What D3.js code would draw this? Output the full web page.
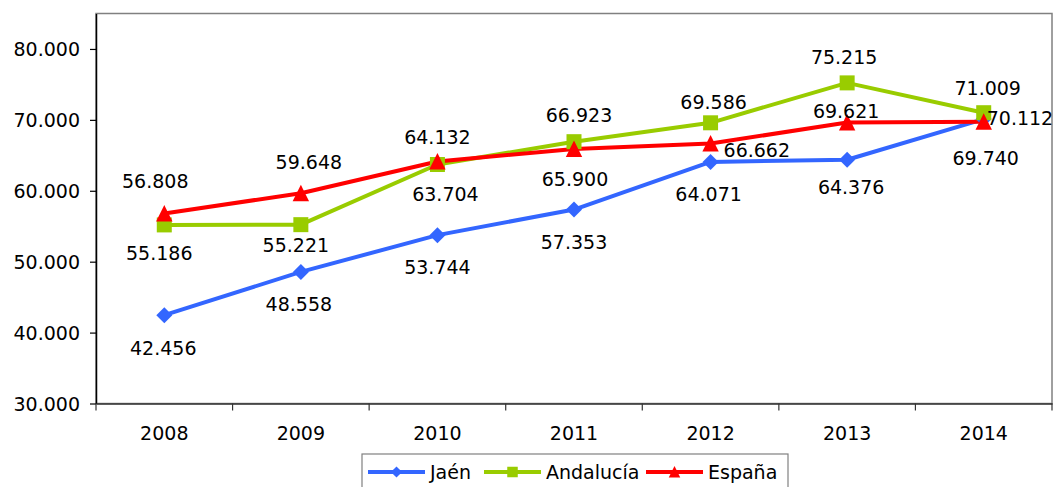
<!DOCTYPE html>
<html><head><meta charset="utf-8">
<script src="https://cdn.jsdelivr.net/npm/d3@7"></script>
<style>body{margin:0;background:#fff}svg{display:block}text{font-family:"DejaVu Sans",sans-serif;fill:#000}</style>
</head><body><svg id="c" width="1053" height="487"></svg>
<script>
// ---- data ----
const years = ["2008","2009","2010","2011","2012","2013","2014"];
const jaen = [42456, 48558, 53744, 57353, 64071, 64376, 70112];
const andalucia = [55186, 55221, 63704, 66923, 69586, 75215, 71009];
const espana = [56808, 59648, 64132, 65900, 66662, 69621, 69740];
const yTicks = [30000, 40000, 50000, 60000, 70000, 80000];
const seriesNames = ["Jaén", "Andalucía", "España"];

// ---- layout: data-label nudges relative to each point [dx, dy, anchor] ----
const jaenLab = [[-1,33,"m"],[-2,32,"m"],[0,32,"m"],[0,32,"m"],[-2,32,"m"],[4,27,"m"],[3,-1,"s"]];
const andaluciaLab = [[-5,28,"m"],[-5,20,"m"],[8,29,"m"],[5,-27,"m"],[3,-21,"m"],[-3,-26,"m"],[4,-25,"m"]];
const espanaLab = [[-9,-32,"m"],[8,-31,"m"],[0,-24,"m"],[1,30,"m"],[13,6,"s"],[-1,-12,"m"],[2,36,"m"]];

const series = [
  {name: seriesNames[0], values: jaen, lab: jaenLab, color: "#3366ff", marker: "diamond"},
  {name: seriesNames[1], values: andalucia, lab: andaluciaLab, color: "#99cc00", marker: "square"},
  {name: seriesNames[2], values: espana, lab: espanaLab, color: "#ff0000", marker: "triangle"}
];

const loc = d3.formatLocale({decimal: ",", thousands: ".", grouping: [3], currency: ["", "€"]});
const fmt = loc.format(",.0f");
const FS = "19px";

const svg = d3.select("#c");
const L = 96, R = 1052, T = 13.5, B = 403.5;
const x = d3.scaleBand().domain(years).range([L, R]);
const y = d3.scaleLinear().domain([30000, 85000]).range([B, T]);

// plot frame
svg.append("rect").attr("x", L).attr("y", T).attr("width", R - L).attr("height", B - T)
  .attr("fill", "none").attr("stroke", "#808080").attr("stroke-width", 1.5);

// y axis
const ya = svg.append("g").attr("transform", `translate(${L},0)`)
  .call(d3.axisLeft(y).tickValues(yTicks).tickFormat(fmt).tickSize(6).tickSizeOuter(0).tickPadding(10));
ya.select(".domain").attr("stroke", "#000").attr("stroke-width", 1.5);
ya.selectAll(".tick line").attr("stroke", "#000").attr("stroke-width", 1.2);
ya.selectAll("text").style("font-size", FS).attr("fill", "#000").attr("dy", "0.35em");

// x axis
const xa = svg.append("g").attr("transform", `translate(0,${B})`)
  .call(d3.axisBottom(x).tickSize(0).tickSizeOuter(0).tickPadding(23));
xa.select(".domain").attr("stroke", "#333").attr("stroke-width", 1.5);
xa.selectAll("text").style("font-size", FS).attr("fill", "#000");
const bounds = years.map(d => x(d)).concat([x(years[years.length-1]) + x.bandwidth()]);
xa.selectAll(".btick").data(bounds).enter().append("line")
  .attr("x1", d => d).attr("x2", d => d).attr("y1", 0).attr("y2", 7)
  .attr("stroke", "#333").attr("stroke-width", 1.2);

const cx = d => x(d) + x.bandwidth() / 2;

function marker(g, type, color, px, py, k) {
  if (type === "diamond") {
    const s = 8 * k;
    g.append("path").attr("d", `M${px},${py-s}L${px+s},${py}L${px},${py+s}L${px-s},${py}Z`).attr("fill", color);
  } else if (type === "square") {
    const s = 7.5 * k;
    g.append("rect").attr("x", px - s).attr("y", py - s).attr("width", 2*s).attr("height", 2*s).attr("fill", color);
  } else {
    g.append("path").attr("d", `M${px},${py-8.5*k}L${px+8.2*k},${py+8*k}L${px-8.2*k},${py+8*k}Z`).attr("fill", color);
  }
}

const line = d3.line().x((d, i) => cx(years[i])).y(d => y(d));
const gLines = svg.append("g");
series.forEach(s => {
  gLines.append("path").datum(s.values).attr("d", line).attr("fill", "none")
    .attr("stroke", s.color).attr("stroke-width", 4).attr("stroke-linejoin", "round");
});
series.forEach(s => {
  const g = svg.append("g");
  s.values.forEach((v, i) => marker(g, s.marker, s.color, cx(years[i]), y(v), 1));
});
// data labels
const gLab = svg.append("g");
series.forEach(s => {
  s.values.forEach((v, i) => {
    const [dx, dy, a] = s.lab[i];
    gLab.append("text").text(fmt(v)).style("font-size", FS)
      .attr("dominant-baseline", "central")
      .attr("text-anchor", a === "s" ? "start" : "middle")
      .attr("x", cx(years[i]) + dx).attr("y", y(v) + dy);
  });
});

// legend
const lg = svg.append("g");
lg.append("rect").attr("x", 362).attr("y", 454).attr("width", 426).attr("height", 40)
  .attr("fill", "#fff").attr("stroke", "#808080").attr("stroke-width", 1.2);
const legX = [368, 484, 646];
series.forEach((s, i) => {
  const lx = legX[i], ly = 472;
  lg.append("line").attr("x1", lx).attr("x2", lx + 57).attr("y1", ly).attr("y2", ly)
    .attr("stroke", s.color).attr("stroke-width", 4);
  marker(lg, s.marker, s.color, lx + 28.5, ly, 0.7);
  lg.append("text").attr("x", lx + 62).attr("y", ly).attr("dominant-baseline", "central")
    .style("font-size", FS).text(s.name);
});
</script></body></html>
